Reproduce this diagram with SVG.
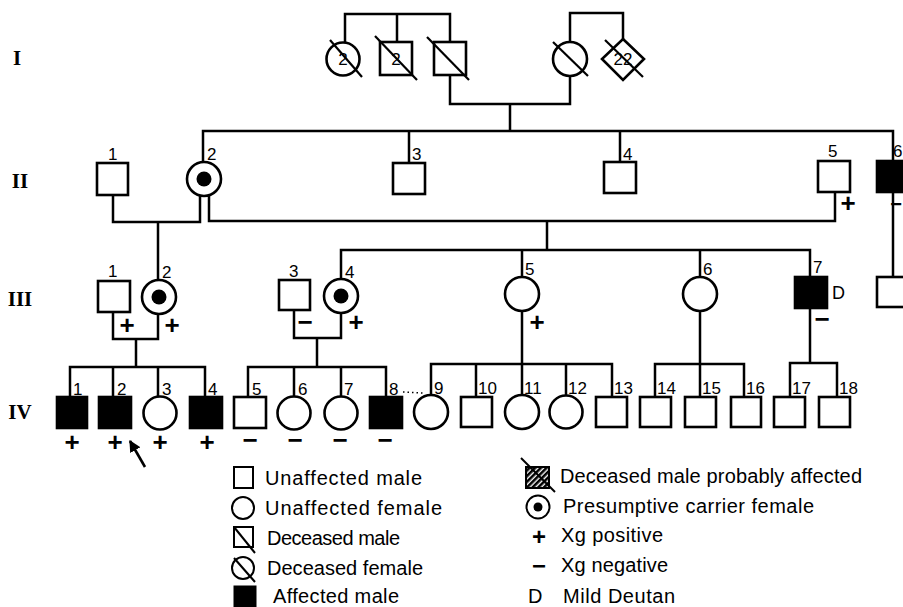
<svg xmlns="http://www.w3.org/2000/svg" width="903" height="607" viewBox="0 0 903 607">
<style>
.ln{fill:none;stroke:#000;stroke-width:2.5}
.nd{fill:#fff;stroke:#000;stroke-width:2.6}
.af{fill:#000;stroke:#000;stroke-width:2.6}
.sl{stroke:#000;stroke-width:2.2}
.dot{fill:#000}
.lbl{font-family:"Liberation Sans",Arial,sans-serif;font-size:17px;fill:#000}
.in{font-family:"Liberation Sans",Arial,sans-serif;font-size:17px;fill:#000;text-anchor:middle}
.sg{font-family:"Liberation Sans",Arial,sans-serif;font-size:26px;font-weight:bold;text-anchor:middle;fill:#000}
.gen{font-family:"Liberation Serif","Times New Roman",serif;font-size:21px;font-weight:bold;text-anchor:middle;fill:#000}
.lg{font-family:"Liberation Sans",Arial,sans-serif;font-size:20px;fill:#000}
</style>
<defs>
<marker id="ah" viewBox="0 0 10 10" refX="9" refY="5" markerWidth="4.5" markerHeight="4.5" orient="auto">
<path d="M0,0 L10,5 L0,10 z" fill="#000"/>
</marker>
<pattern id="hatch" patternUnits="userSpaceOnUse" width="4" height="4" patternTransform="rotate(45)">
<rect width="4" height="4" fill="#fff"/>
<rect width="2.6" height="4" fill="#000"/>
</pattern>
</defs>
<rect width="903" height="607" fill="#fff"/>

<g id="generations">
<text class="gen" x="17" y="65">I</text>
<text class="gen" x="20" y="188">II</text>
<text class="gen" x="20" y="306">III</text>
<text class="gen" x="20" y="419">IV</text>
</g>

<g id="connectors">
<path class="ln" d="M345,42 V14 H450 V42 M397,14 V42"/>
<path class="ln" d="M570,42 V13 H623 V40"/>
<path class="ln" d="M450,75 V104 H570 V76 M510,104 V131"/>
<path class="ln" d="M203,162 V131 H893 V160 M409,131 V163 M620,131 V162"/>
<path class="ln" d="M200,196 V222 H113 V195 M158,222 V280"/>
<path class="ln" d="M209,196 V221 H835 V192 M547,221 V250"/>
<path class="ln" d="M893,192 V277"/>
<path class="ln" d="M341,279 V250 H810 V277 M522,250 V277 M700,250 V277"/>
<path class="ln" d="M113,312 V339 H158 V314 M136,339 V367"/>
<path class="ln" d="M294,310 V338 H341 V313 M317,338 V367"/>
<path class="ln" d="M70,397 V367 H205 V397 M113,367 V397 M158,367 V396"/>
<path class="ln" d="M248,397 V367 H386 V397 M294,367 V396 M341,367 V396"/>
<path class="ln" d="M522,311 V364 M431,395 V364 H612 V397 M476,364 V397 M522,364 V395 M566,364 V396"/>
<path class="ln" d="M700,311 V364 M655,397 V364 H744 V397 M700,364 V397"/>
<path class="ln" d="M810,308 V363 M790,397 V363 H837 V397"/>
<path d="M403,392 L423,393" stroke="#000" stroke-width="1.5" stroke-dasharray="1.5 3" fill="none"/>
<path d="M145,467 L130,441" stroke="#000" stroke-width="2.6" fill="none" marker-end="url(#ah)"/>
</g>

<g id="I-sibs-f">
<circle class="nd" cx="343" cy="59" r="16.5"/>
<text class="in" x="343" y="65">2</text>
<line class="sl" x1="330" y1="40" x2="362" y2="77"/>
</g>
<g id="I-sibs-m">
<rect class="nd" x="380" y="42" width="32" height="33"/>
<text class="in" x="396" y="65">2</text>
<line class="sl" x1="375" y1="36" x2="417" y2="80"/>
</g>
<g id="I-1">
<rect class="nd" x="434" y="42" width="32" height="33"/>
<line class="sl" x1="427" y1="37" x2="469" y2="80"/>
</g>
<g id="I-2">
<circle class="nd" cx="570" cy="59" r="17"/>
<line class="sl" x1="553" y1="42" x2="588" y2="76"/>
</g>
<g id="I-sibs-22">
<polygon class="nd" points="623,39 644,59 623,80 602,59"/>
<text class="in" x="623" y="65">22</text>
<line class="sl" x1="605" y1="40" x2="643" y2="77"/>
</g>

<g id="II-1">
<rect class="nd" x="97" y="163" width="31" height="32"/>
<text class="lbl" x="108" y="160">1</text>
</g>
<g id="II-2">
<circle class="nd" cx="204" cy="179" r="17"/>
<circle class="dot" cx="204" cy="179" r="7.5"/>
<text class="lbl" x="207" y="160">2</text>
</g>
<g id="II-3">
<rect class="nd" x="393" y="163" width="32" height="31"/>
<text class="lbl" x="412" y="160">3</text>
</g>
<g id="II-4">
<rect class="nd" x="604" y="162" width="32" height="31"/>
<text class="lbl" x="623" y="160">4</text>
</g>
<g id="II-5">
<rect class="nd" x="818" y="161" width="32" height="31"/>
<text class="lbl" x="828" y="157">5</text>
<text class="sg" x="848" y="212">+</text>
</g>
<g id="II-6">
<rect class="af" x="877" y="161" width="32" height="31"/>
<text class="lbl" x="893" y="157">6</text>
<text class="sg" x="896" y="211" style="font-size:20px">−</text>
</g>

<g id="III-1">
<rect class="nd" x="98" y="281" width="32" height="31"/>
<text class="lbl" x="108" y="277">1</text>
<text class="sg" x="127" y="334">+</text>
</g>
<g id="III-2">
<circle class="nd" cx="159" cy="297" r="17"/>
<circle class="dot" cx="159" cy="297" r="7.5"/>
<text class="lbl" x="162" y="278">2</text>
<text class="sg" x="172" y="334">+</text>
</g>
<g id="III-3">
<rect class="nd" x="279" y="280" width="31" height="30"/>
<text class="lbl" x="289" y="277">3</text>
<text class="sg" x="305" y="331">−</text>
</g>
<g id="III-4">
<circle class="nd" cx="341" cy="296" r="17"/>
<circle class="dot" cx="341" cy="296" r="7.5"/>
<text class="lbl" x="345" y="278">4</text>
<text class="sg" x="356" y="331">+</text>
</g>
<g id="III-5">
<circle class="nd" cx="522" cy="294" r="17"/>
<text class="lbl" x="525" y="275">5</text>
<text class="sg" x="537" y="331">+</text>
</g>
<g id="III-6">
<circle class="nd" cx="700" cy="294" r="17"/>
<text class="lbl" x="703" y="275">6</text>
</g>
<g id="III-7">
<rect class="af" x="795" y="277" width="32" height="31"/>
<text class="lbl" x="813" y="273">7</text>
<text class="lbl" x="832" y="299" style="font-size:18px">D</text>
<text class="sg" x="822" y="328">−</text>
</g>
<g id="III-8">
<rect class="nd" x="877" y="277" width="32" height="30"/>
</g>

<g id="IV-1">
<rect class="af" x="57" y="397" width="30" height="31"/>
<text class="lbl" x="73" y="395">1</text>
<text class="sg" x="72" y="451">+</text>
</g>
<g id="IV-2">
<rect class="af" x="99" y="397" width="32" height="31"/>
<text class="lbl" x="117" y="395">2</text>
<text class="sg" x="115" y="451">+</text>
</g>
<g id="IV-3">
<circle class="nd" cx="160" cy="413" r="16.5"/>
<text class="lbl" x="162" y="395">3</text>
<text class="sg" x="160" y="451">+</text>
</g>
<g id="IV-4">
<rect class="af" x="190" y="397" width="32" height="31"/>
<text class="lbl" x="208" y="395">4</text>
<text class="sg" x="207" y="451">+</text>
</g>
<g id="IV-5">
<rect class="nd" x="234" y="397" width="32" height="31"/>
<text class="lbl" x="252" y="395">5</text>
<text class="sg" x="250" y="449">−</text>
</g>
<g id="IV-6">
<circle class="nd" cx="294" cy="413" r="16.5"/>
<text class="lbl" x="298" y="395">6</text>
<text class="sg" x="295" y="449">−</text>
</g>
<g id="IV-7">
<circle class="nd" cx="341" cy="413" r="16.5"/>
<text class="lbl" x="344" y="395">7</text>
<text class="sg" x="340" y="449">−</text>
</g>
<g id="IV-8">
<rect class="af" x="370" y="397" width="32" height="31"/>
<text class="lbl" x="389" y="395">8</text>
<text class="sg" x="385" y="449">−</text>
</g>
<g id="IV-9">
<circle class="nd" cx="431" cy="412" r="17"/>
<text class="lbl" x="434" y="394">9</text>
</g>
<g id="IV-10">
<rect class="nd" x="461" y="397" width="31" height="30"/>
<text class="lbl" x="478" y="394">10</text>
</g>
<g id="IV-11">
<circle class="nd" cx="522" cy="412" r="17"/>
<text class="lbl" x="524" y="394">11</text>
</g>
<g id="IV-12">
<circle class="nd" cx="566" cy="412" r="16.5"/>
<text class="lbl" x="568" y="394">12</text>
</g>
<g id="IV-13">
<rect class="nd" x="596" y="397" width="31" height="30"/>
<text class="lbl" x="614" y="394">13</text>
</g>
<g id="IV-14">
<rect class="nd" x="640" y="397" width="31" height="30"/>
<text class="lbl" x="657" y="394">14</text>
</g>
<g id="IV-15">
<rect class="nd" x="685" y="397" width="31" height="30"/>
<text class="lbl" x="702" y="394">15</text>
</g>
<g id="IV-16">
<rect class="nd" x="731" y="397" width="30" height="30"/>
<text class="lbl" x="746" y="394">16</text>
</g>
<g id="IV-17">
<rect class="nd" x="774" y="397" width="31" height="30"/>
<text class="lbl" x="792" y="394">17</text>
</g>
<g id="IV-18">
<rect class="nd" x="819" y="397" width="31" height="30"/>
<text class="lbl" x="839" y="394">18</text>
</g>

<g id="legend">
<rect class="nd" x="234" y="467" width="19" height="21" style="stroke-width:2"/>
<text class="lg" x="265" y="485" textLength="157" lengthAdjust="spacing">Unaffected male</text>
<circle class="nd" cx="243" cy="508" r="11" style="stroke-width:2"/>
<text class="lg" x="265" y="515" textLength="177" lengthAdjust="spacing">Unaffected female</text>
<rect class="nd" x="234" y="527" width="19" height="20" style="stroke-width:2"/>
<line class="sl" x1="234" y1="527" x2="255" y2="553" style="stroke-width:2"/>
<text class="lg" x="267" y="545" textLength="133" lengthAdjust="spacing">Deceased male</text>
<circle class="nd" cx="243" cy="568" r="11" style="stroke-width:2"/>
<line class="sl" x1="234" y1="558" x2="255" y2="582" style="stroke-width:2"/>
<text class="lg" x="267" y="575" textLength="156" lengthAdjust="spacing">Deceased female</text>
<rect class="af" x="234" y="586" width="22" height="21" style="stroke-width:1"/>
<text class="lg" x="273" y="603" textLength="126" lengthAdjust="spacing">Affected male</text>

<rect x="526" y="467" width="23" height="21" fill="url(#hatch)" stroke="#000" stroke-width="2"/>
<line class="sl" x1="521" y1="458" x2="555" y2="492" style="stroke-width:2"/>
<text class="lg" x="560" y="483" textLength="302" lengthAdjust="spacing">Deceased male probably affected</text>
<circle class="nd" cx="538" cy="507" r="11.5" style="stroke-width:2"/>
<circle class="dot" cx="538" cy="507" r="4.5"/>
<text class="lg" x="563" y="513" textLength="251" lengthAdjust="spacing">Presumptive carrier female</text>
<text class="sg" x="539" y="545" style="font-size:24px">+</text>
<text class="lg" x="561" y="542" textLength="102" lengthAdjust="spacing">Xg positive</text>
<text class="sg" x="539" y="574" style="font-size:24px">−</text>
<text class="lg" x="561" y="572" textLength="107" lengthAdjust="spacing">Xg negative</text>
<text class="lg" x="528" y="603">D</text>
<text class="lg" x="563" y="603" textLength="112" lengthAdjust="spacing">Mild Deutan</text>
</g>
</svg>
